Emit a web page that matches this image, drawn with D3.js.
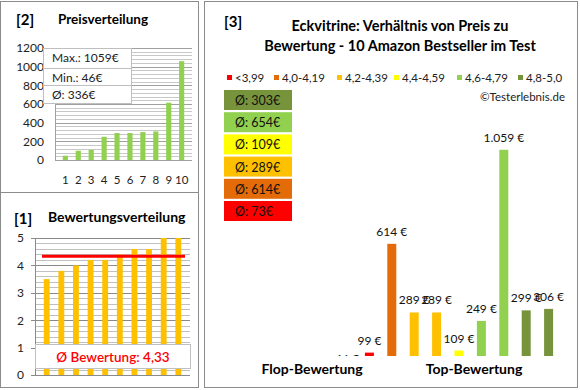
<!DOCTYPE html>
<html><head><meta charset="utf-8">
<script src="https://cdn.jsdelivr.net/npm/d3@7"></script>
<style>
html,body{margin:0;padding:0;background:#fff;}
svg{display:block;font-family:Lato,"Open Sans",sans-serif;}
</style></head>
<body>
<svg id="c" width="580" height="390"></svg>
<script>
// ---- data ----
const ratingClasses = ["<3,99","4,0-4,19","4,2-4,39","4,4-4,59","4,6-4,79","4,8-5,0"];
const classColors = ["#FF0000","#E36C09","#FFC000","#FFFF00","#92D050","#77933C"];
const products = ["1","2","3","4","5","6","7","8","9","10"];
const prices = [46,99,614,289,289,109,249,1059,299,306];
const ratings = [3.5,3.8,4.0,4.2,4.2,4.4,4.6,4.6,5.0,5.0];
const priceClass = [0,0,1,2,2,3,4,4,5,5];
const sortedPrices = [46,99,109,249,289,289,299,306,614,1059];
const priceTicks = [0,200,400,600,800,1000,1200];
const ratingTicks = [0,1,2,3,4,5];

const svg = d3.select("#c");
const border = "#8c8c8c";

// panel frames
svg.append("rect").attr("x",0.5).attr("y",1.5).attr("width",198).attr("height",386).attr("fill","none").attr("stroke",border);
svg.append("line").attr("x1",0.5).attr("x2",198.5).attr("y1",192.5).attr("y2",192.5).attr("stroke",border);
svg.append("rect").attr("x",204.5).attr("y",1.5).attr("width",373).attr("height",386).attr("fill","none").attr("stroke",border);

// ---------- Panel 2: Preisverteilung ----------
svg.append("text").attr("x",16).attr("y",25).attr("font-size",15).attr("font-weight","bold").text("[2]");
svg.append("text").attr("x",58).attr("y",24).attr("font-size",13.5).attr("font-weight","bold").text("Preisverteilung");

const x2 = d3.scaleBand().domain(products).range([55,192]).padding(0.6);
const y2 = d3.scaleLinear().domain([0,1200]).range([160,48]);
const g2 = svg.append("g");
g2.selectAll("line.grid").data(d3.range(0,1201,40)).join("line")
  .attr("x1",55).attr("x2",192).attr("y1",d=>Math.round(y2(d))+0.5).attr("y2",d=>Math.round(y2(d))+0.5)
  .attr("stroke",d=>d%200===0?"#a0a0a0":"#c8c8c8").attr("stroke-width",1);
g2.append("line").attr("x1",55.5).attr("x2",55.5).attr("y1",48).attr("y2",160.5).attr("stroke","#a0a0a0");
g2.selectAll("rect.bar").data(sortedPrices).join("rect")
  .attr("x",(d,i)=>x2(products[i])).attr("width",x2.bandwidth())
  .attr("y",d=>y2(d)).attr("height",d=>y2(0)-y2(d)).attr("fill","#92D050");
const ax2 = g2.append("g").attr("transform","translate(44,0)")
  .call(d3.axisLeft(y2).tickValues(priceTicks).tickFormat(d3.format("d")).tickSize(0).tickPadding(0));
ax2.select(".domain").remove();
ax2.selectAll("text").attr("font-size",12).attr("font-family","Lato,sans-serif").attr("fill","#222");
const xa2 = g2.append("g").attr("transform","translate(0,176)")
  .call(d3.axisBottom(x2).tickSize(0).tickPadding(0));
xa2.select(".domain").remove();
xa2.selectAll("text").attr("font-size",11.5).attr("font-family","Lato,sans-serif").attr("fill","#222");

// stats box
const statRows = ["Max.: "+d3.max(sortedPrices)+"€","Min.: "+d3.min(sortedPrices)+"€","Ø: "+Math.round(d3.mean(sortedPrices))+"€"];
const boxY = [48,68,85,103];
g2.append("rect").attr("x",43.5).attr("y",48.5).attr("width",88).attr("height",55).attr("fill","#fff").attr("stroke","#bfbfbf");
[68,85].forEach(y=>g2.append("line").attr("x1",43.5).attr("x2",131.5).attr("y1",y+0.5).attr("y2",y+0.5).attr("stroke","#bfbfbf"));
statRows.forEach((t,i)=>g2.append("text").attr("x",52).attr("y",boxY[i]+14).attr("font-size",12).attr("fill","#222").text(t));

// ---------- Panel 1: Bewertungsverteilung ----------
svg.append("text").attr("x",14).attr("y",224).attr("font-size",15).attr("font-weight","bold").text("[1]");
svg.append("text").attr("x",48).attr("y",222).attr("font-size",14).attr("font-weight","bold").text("Bewertungsverteilung");

const x1 = d3.scaleBand().domain(products).range([35,190]).padding(0.6);
const y1 = d3.scaleLinear().domain([0,5]).range([375,238]);
const g1 = svg.append("g");
g1.selectAll("line.minor").data(d3.range(0,25).map(i=>i*0.2)).join("line")
  .attr("x1",35).attr("x2",190).attr("y1",d=>Math.round(y1(d))+0.5).attr("y2",d=>Math.round(y1(d))+0.5)
  .attr("stroke","#c0c0c0");
g1.selectAll("line.major").data(ratingTicks).join("line")
  .attr("x1",31).attr("x2",190).attr("y1",d=>Math.round(y1(d))+0.5).attr("y2",d=>Math.round(y1(d))+0.5)
  .attr("stroke","#8a8a8a");
g1.append("line").attr("x1",35.5).attr("x2",35.5).attr("y1",238).attr("y2",375.5).attr("stroke","#8a8a8a");
g1.selectAll("rect.bar").data(ratings).join("rect")
  .attr("x",(d,i)=>x1(products[i])).attr("width",x1.bandwidth())
  .attr("y",d=>y1(d)).attr("height",d=>y1(0)-y1(d)).attr("fill","#FFC000");
const avgR = d3.mean(ratings);
g1.append("line").attr("x1",42).attr("x2",185).attr("y1",y1(avgR)).attr("y2",y1(avgR)).attr("stroke","#FF0000").attr("stroke-width",3);
const ax1 = g1.append("g").attr("transform","translate(24,0)")
  .call(d3.axisLeft(y1).tickValues(ratingTicks).tickFormat(d3.format("d")).tickSize(0).tickPadding(0));
ax1.select(".domain").remove();
ax1.selectAll("text").attr("font-size",12).attr("font-family","Lato,sans-serif").attr("fill","#222");
g1.append("rect").attr("x",35.5).attr("y",344.5).attr("width",155).attr("height",24).attr("fill","#fff").attr("stroke","#bfbfbf");
g1.append("text").attr("x",113).attr("y",362).attr("text-anchor","middle").attr("font-size",13.5).attr("font-weight","600").attr("fill","#FF0000")
  .text("Ø Bewertung: "+d3.format(".2f")(avgR).replace(".",","));

// ---------- Panel 3 ----------
svg.append("text").attr("x",224).attr("y",27).attr("font-size",15).attr("font-weight","bold").text("[3]");
svg.append("text").attr("x",400).attr("y",31).attr("text-anchor","middle").attr("font-size",14.5).attr("font-weight","bold").text("Eckvitrine: Verhältnis von Preis zu");
svg.append("text").attr("x",400).attr("y",51).attr("text-anchor","middle").attr("font-size",14.5).attr("font-weight","bold").text("Bewertung - 10 Amazon Bestseller im Test");

// legend
const legX = [227,274,337,394,457,518];
const leg = svg.append("g");
ratingClasses.forEach((c,i)=>{
  leg.append("rect").attr("x",legX[i]).attr("y",75).attr("width",5).attr("height",5).attr("fill",classColors[i]);
  leg.append("text").attr("x",legX[i]+8).attr("y",82).attr("font-size",11.5).attr("fill","#222").text(c);
});
svg.append("text").attr("x",565).attr("y",101).attr("text-anchor","end").attr("font-size",11.5).attr("fill","#222").text("©Testerlebnis.de");

// class averages
const classAvg = ratingClasses.map((c,ci)=>{
  const v = prices.filter((p,i)=>priceClass[i]===ci);
  return Math.round(d3.mean(v));
});
const boxOrder = [5,4,3,2,1,0];
boxOrder.forEach((ci,k)=>{
  const y = 90 + k*22.2;
  svg.append("rect").attr("x",224).attr("y",y).attr("width",68).attr("height",20).attr("fill",classColors[ci]);
  svg.append("text").attr("x",235).attr("y",y+15).attr("font-size",12.5).attr("fill","#111").text("Ø: "+classAvg[ci]+"€");
});

// bars
const x3 = d3.scaleBand().domain(products).range([335.8,559.8]).paddingInner(0.6).paddingOuter(0.3);
const y3 = d3.scaleLinear().domain([83,1200]).range([356,120]);
const de = d3.formatLocale({decimal:",",thousands:".",grouping:[3],currency:["","€"]});
const fmt = de.format(",d");
svg.append("clipPath").attr("id","pc").append("rect").attr("x",205).attr("y",60).attr("width",372).attr("height",296);
const g3 = svg.append("g").attr("clip-path","url(#pc)");
g3.selectAll("rect").data(prices).join("rect")
  .attr("x",(d,i)=>x3(products[i])+x3.bandwidth()/2-4.5).attr("width",9)
  .attr("y",d=>Math.min(y3(d),356)).attr("height",d=>Math.max(0,356-y3(d)))
  .attr("fill",(d,i)=>classColors[priceClass[i]]);
// labels of bars below the axis minimum sit at the clipped axis edge (as in the original)
g3.selectAll("text").data(prices).join("text")
  .attr("x",(d,i)=>x3(products[i])+x3.bandwidth()/2)
  .attr("y",d=>d < y3.domain()[0] ? 363 : y3(d)-8)
  .attr("text-anchor","middle").attr("font-size",12).attr("fill","#111")
  .text(d=>fmt(d)+" €");

svg.append("text").attr("x",312).attr("y",374).attr("text-anchor","middle").attr("font-size",14).attr("font-weight","bold").text("Flop-Bewertung");
svg.append("text").attr("x",474).attr("y",374).attr("text-anchor","middle").attr("font-size",14).attr("font-weight","bold").text("Top-Bewertung");
</script>
</body></html>
